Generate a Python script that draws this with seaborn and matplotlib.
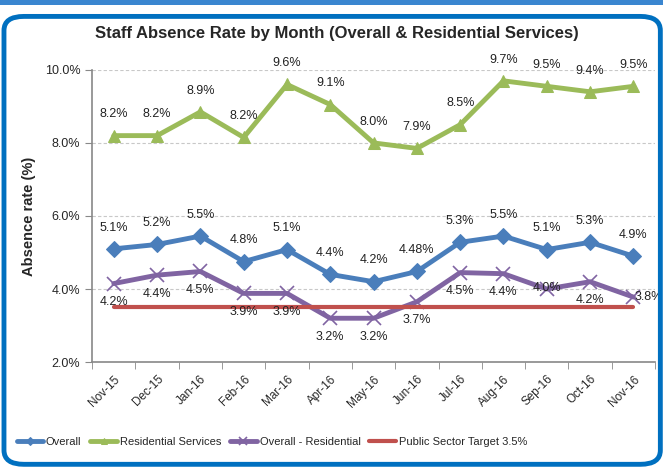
import numpy as np
import pandas as pd
import matplotlib.pyplot as plt
import seaborn as sns
from matplotlib.patches import FancyBboxPatch

# staff absence data
months = ["Nov-15", "Dec-15", "Jan-16", "Feb-16", "Mar-16", "Apr-16", "May-16",
          "Jun-16", "Jul-16", "Aug-16", "Sep-16", "Oct-16", "Nov-16"]
overall = [5.1, 5.22, 5.45, 4.75, 5.08, 4.4, 4.2, 4.48, 5.28, 5.45, 5.08, 5.28, 4.9]
residential = [8.2, 8.2, 8.85, 8.15, 9.6, 9.05, 8.0, 7.85, 8.5, 9.7, 9.55, 9.4, 9.55]
overall_minus_res = [4.15, 4.38, 4.48, 3.88, 3.88, 3.2, 3.2, 3.65, 4.45, 4.42, 4.0, 4.2, 3.78]
target = [3.5] * 13

overall_lbl = ["5.1%", "5.2%", "5.5%", "4.8%", "5.1%", "4.4%", "4.2%", "4.48%", "5.3%",
               "5.5%", "5.1%", "5.3%", "4.9%"]
res_lbl = ["8.2%", "8.2%", "8.9%", "8.2%", "9.6%", "9.1%", "8.0%", "7.9%", "8.5%",
           "9.7%", "9.5%", "9.4%", "9.5%"]
omr_lbl = ["4.2%", "4.4%", "4.5%", "3.9%", "3.9%", "3.2%", "3.2%", "3.7%", "4.5%",
           "4.4%", "4.0%", "4.2%", "3.8%"]

df = pd.DataFrame({"month": months, "overall": overall, "residential": residential,
                   "omr": overall_minus_res, "target": target})

sns.set_style("white")
plt.rcParams["font.family"] = ["Liberation Sans", "DejaVu Sans"]

fig = plt.figure(figsize=(6.63, 4.69), dpi=100)
ax = fig.add_axes([0.139, 0.228, 0.849, 0.623])

blue = "#4A7EBB"
green = "#9BBB59"
purple = "#8064A2"
red = "#C0504D"

sns.lineplot(data=df, x="month", y="overall", ax=ax, color=blue, lw=3.5, marker="D",
             markersize=8, markeredgecolor=blue, label="Overall", sort=False)
sns.lineplot(data=df, x="month", y="residential", ax=ax, color=green, lw=3.5, marker="^",
             markersize=9, markeredgecolor=green, label="Residential Services", sort=False)
sns.lineplot(data=df, x="month", y="omr", ax=ax, color=purple, lw=3.5, marker="x",
             markersize=10, markeredgewidth=1.2, markeredgecolor=purple,
             label="Overall - Residential", sort=False)
sns.lineplot(data=df, x="month", y="target", ax=ax, color=red, lw=3,
             label="Public Sector Target 3.5%", sort=False)

# data labels
fs = 9
for i in range(13):
    ax.annotate(overall_lbl[i], (i, overall[i]), xytext=(0, 11), textcoords="offset points",
                ha="center", va="bottom", fontsize=fs, color="#222222")
    ax.annotate(res_lbl[i], (i, residential[i]), xytext=(0, 11), textcoords="offset points",
                ha="center", va="bottom", fontsize=fs, color="#222222")
    if i == 10:
        ax.annotate(omr_lbl[i], (i, overall_minus_res[i]), xytext=(0, 1), textcoords="offset points",
                    ha="center", va="center", fontsize=fs, color="#222222")
    elif i == 12:
        ax.annotate(omr_lbl[i], (i, overall_minus_res[i]), xytext=(1, 0), textcoords="offset points",
                    ha="left", va="center", fontsize=fs, color="#222222")
    else:
        ax.annotate(omr_lbl[i], (i, overall_minus_res[i]), xytext=(0, -9), textcoords="offset points",
                    ha="center", va="top", fontsize=fs, color="#222222")

ax.set_xlim(-0.5, 12.5)
ax.set_ylim(2, 10)
ax.set_yticks([2, 4, 6, 8, 10])
ax.set_yticklabels(["2.0%", "4.0%", "6.0%", "8.0%", "10.0%"], fontsize=9)
ax.yaxis.grid(True, ls=(0, (3, 2)), color="#C8C8C8", lw=0.8)
ax.set_axisbelow(True)

ax.set_xticks(range(13))
ax.set_xticklabels(months, rotation=45, ha="right", rotation_mode="anchor", fontsize=8.5)
ax.set_xticks(np.arange(-0.5, 13, 1), minor=True)
ax.tick_params(axis="x", which="major", length=0, pad=8)
ax.tick_params(axis="x", which="minor", length=5, color="#888888", direction="out", bottom=True)
ax.tick_params(axis="y", length=5, color="#888888", direction="out", left=True)

for s in ["top", "right"]:
    ax.spines[s].set_visible(False)
for s in ["left", "bottom"]:
    ax.spines[s].set_color("#888888")
    ax.spines[s].set_linewidth(1.2)

ax.set_xlabel("")
ax.set_ylabel("Absence rate (%)", fontsize=10.5, fontweight="bold", labelpad=6)
fig.suptitle("Staff Absence Rate by Month (Overall & Residential Services)",
             x=0.508, y=0.945, fontsize=12, fontweight="bold")

fig.legend(*ax.get_legend_handles_labels(), loc="center", bbox_to_anchor=(0.41, 0.058),
           ncol=4, frameon=False, fontsize=8, handlelength=2.4, handletextpad=0.25,
           columnspacing=0.8, markerscale=0.55)
ax.get_legend().remove()

# rounded blue border like the source
fig.patches.append(FancyBboxPatch((0.006, 0.01), 0.99, 0.955, boxstyle="round,pad=0,rounding_size=0.03",
                                  transform=fig.transFigure, fill=False, ec="#0070C0", lw=3.5))
fig.patches.append(FancyBboxPatch((0.0, 0.99), 1.0, 0.02, boxstyle="square,pad=0",
                                  transform=fig.transFigure, fill=True, fc="#3A86D0", ec="none"))

fig.savefig("out.png", dpi=100)
